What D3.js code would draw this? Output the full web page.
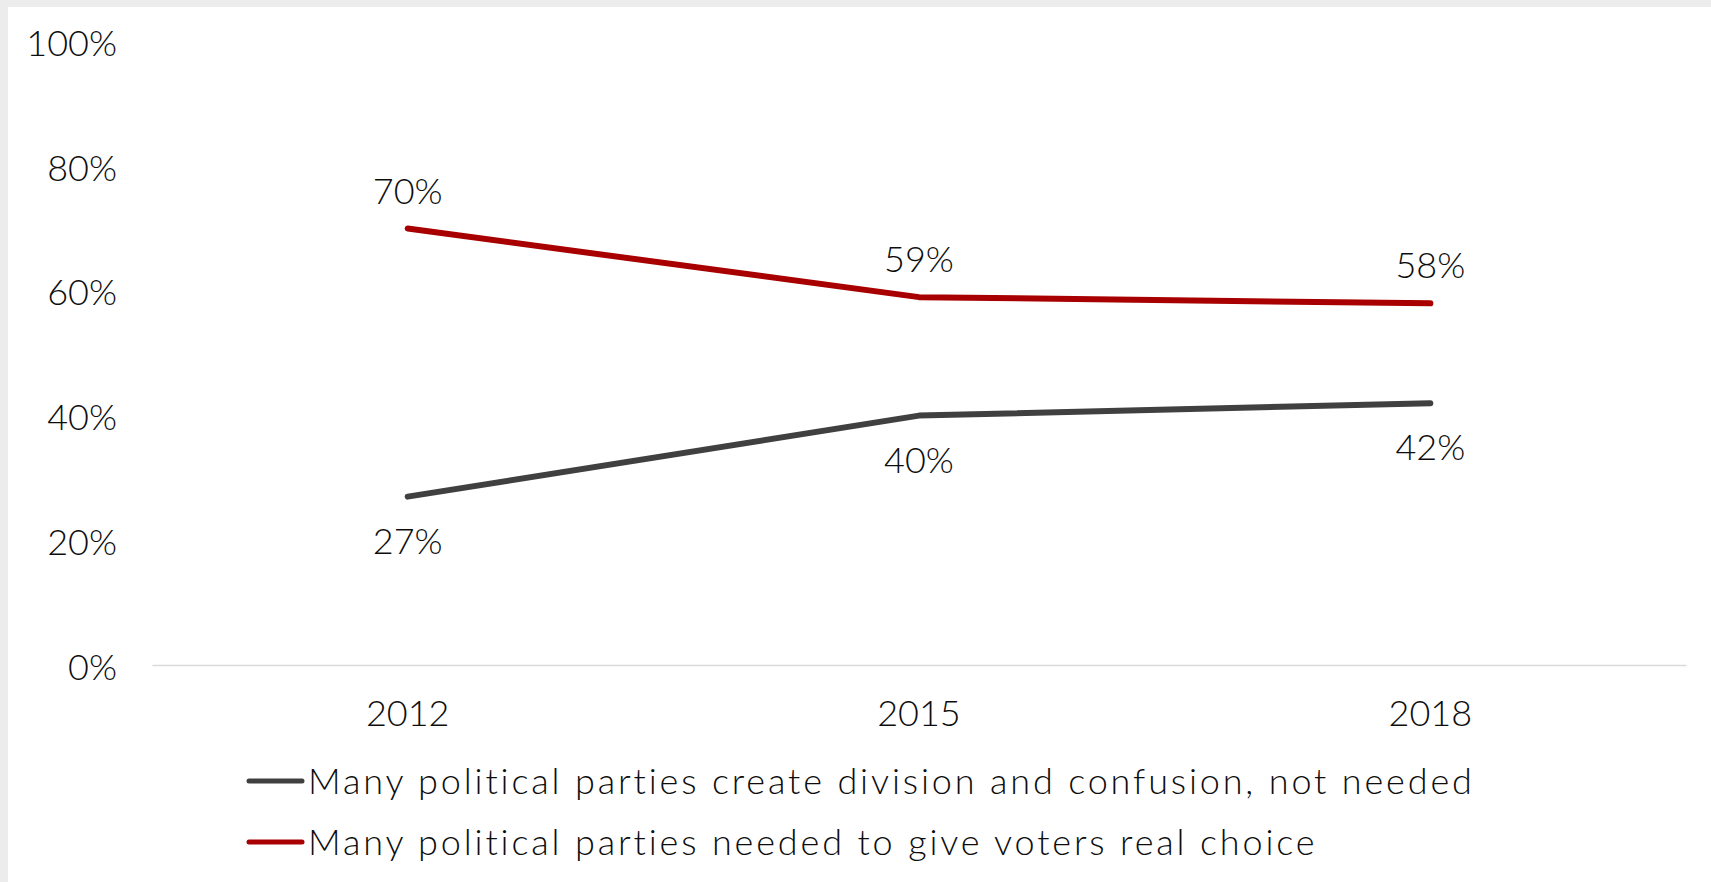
<!DOCTYPE html>
<html>
<head>
<meta charset="utf-8">
<script src="https://cdn.jsdelivr.net/npm/d3@7"></script>
<style>
  html, body { margin: 0; padding: 0; background: #ececec; }
  svg { display: block; }
  text { font-family: Lato, "Noto Sans", sans-serif; font-weight: 300; fill: #0d0d0d; }
</style>
</head>
<body>
<svg id="chart" width="1711" height="882"></svg>
<script>
// Survey years and series values (percent)
const years = ["2012", "2015", "2018"];
const divisionValues = [27, 40, 42];
const choiceValues = [70, 59, 58];
const seriesNames = [
  "Many political parties create division and confusion, not needed",
  "Many political parties needed to give voters real choice"
];
const seriesColors = ["#404040", "#a80000"];
const yTicks = [0, 20, 40, 60, 80, 100];

const series = [
  { name: seriesNames[0], values: divisionValues, color: seriesColors[0], labelSide: "below" },
  { name: seriesNames[1], values: choiceValues, color: seriesColors[1], labelSide: "above" }
];

const W = 1711, H = 882;
const svg = d3.select("#chart");

// white panel over a light grey page
svg.append("rect").attr("x", 0).attr("y", 0).attr("width", W).attr("height", H).attr("fill", "#ececec");
svg.append("rect").attr("x", 8).attr("y", 7).attr("width", W - 8).attr("height", H - 7).attr("fill", "#ffffff");

const plot = { left: 152, right: 1686, top: 41.5, bottom: 665 };
const fontSize = 36;

const x = d3.scaleBand().domain(years).range([plot.left, plot.right]).padding(0);
const y = d3.scaleLinear().domain([0, 100]).range([plot.bottom, plot.top]);
const cx = d => x(d) + x.bandwidth() / 2;

// y axis labels (no line, no ticks)
const yAxis = d3.axisLeft(y).tickValues(yTicks).tickFormat(d => d + "%").tickSize(0).tickPadding(0);
const gy = svg.append("g").attr("transform", "translate(117,0)").call(yAxis);
gy.select(".domain").remove();
gy.selectAll("text")
  .attr("x", 0).attr("dy", null).attr("y", 14)
  .attr("text-anchor", "end")
  .style("font-size", fontSize + "px").attr("font-family", null).attr("fill", "#0d0d0d");

// x axis baseline with category labels
const xAxis = d3.axisBottom(x).tickSize(0).tickPadding(0);
const gx = svg.append("g").attr("transform", `translate(0,${plot.bottom})`).call(xAxis);
gx.select(".domain").attr("stroke", "#d9d9d9").attr("stroke-width", 1.5);
gx.selectAll("text")
  .attr("dy", null).attr("y", 61)
  .style("font-size", fontSize + "px").attr("font-family", null).attr("fill", "#0d0d0d");

// series lines
const line = d3.line().x((d, i) => cx(years[i])).y(d => y(d));
series.forEach(s => {
  svg.append("path")
    .datum(s.values)
    .attr("d", line)
    .attr("fill", "none")
    .attr("stroke", s.color)
    .attr("stroke-width", 6)
    .attr("stroke-linecap", "round")
    .attr("stroke-linejoin", "round");

  svg.append("g").selectAll("text")
    .data(s.values)
    .join("text")
    .attr("x", (d, i) => cx(years[i]))
    .attr("y", d => y(d) + (s.labelSide === "above" ? -25 : 57))
    .attr("text-anchor", "middle")
    .style("font-size", fontSize + "px")
    .text(d => d + "%");
});

// legend
const legend = svg.append("g").attr("transform", "translate(247,781)");
series.forEach((s, i) => {
  const row = legend.append("g").attr("transform", `translate(0,${i * 61})`);
  row.append("line")
    .attr("x1", 2).attr("x2", 55).attr("y1", 0).attr("y2", 0)
    .attr("stroke", s.color).attr("stroke-width", 5).attr("stroke-linecap", "round");
  row.append("text")
    .attr("x", 61).attr("y", 13)
    .style("font-size", fontSize + "px")
    .style("letter-spacing", "2.85px")
    .text(s.name);
});
</script>
</body>
</html>
